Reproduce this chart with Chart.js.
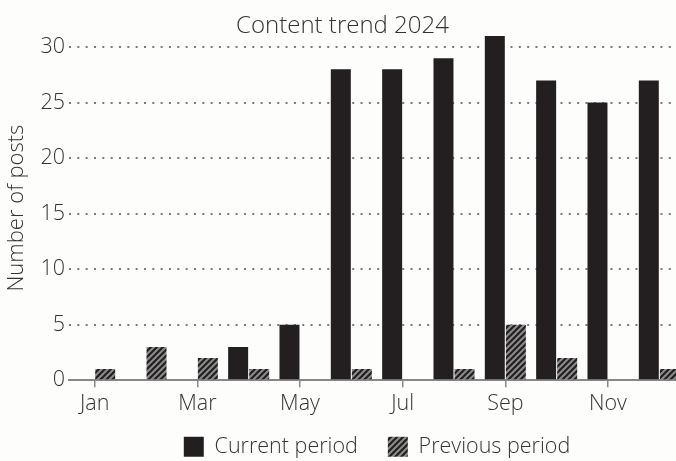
<!DOCTYPE html>
<html>
<head>
<meta charset="utf-8">
<script src="https://cdn.jsdelivr.net/npm/chart.js@4.4.1/dist/chart.umd.min.js"></script>
<style>
  html, body { margin: 0; padding: 0; background: #fdfdfc; overflow: hidden; }
  #wrap { width: 685px; height: 461px; }
</style>
</head>
<body>
<div id="wrap"><canvas id="chart"></canvas></div>
<script>
const months = ['Jan', 'Feb', 'Mar', 'Apr', 'May', 'Jun', 'Jul', 'Aug', 'Sep', 'Oct', 'Nov', 'Dec'];
const currentPeriod = [0, 0, 0, 3, 5, 28, 28, 29, 31, 27, 25, 27];
const previousPeriod = [1, 3, 2, 1, 0, 1, 0, 1, 5, 2, 0, 1];
const yTicks = [0, 5, 10, 15, 20, 25, 30];

const textColor = '#333333';
const barColor = '#231f20';
const font = "'Open Sans', sans-serif";

// hatch pattern for the previous period
function makeHatch() {
    const s = 6;
    const c = document.createElement('canvas');
    c.width = s;
    c.height = s;
    const g = c.getContext('2d');
    g.fillStyle = '#8c8c8c';
    g.fillRect(0, 0, s, s);
    g.strokeStyle = barColor;
    g.lineWidth = 2.2;
    g.beginPath();
    g.moveTo(0, s); g.lineTo(s, 0);
    g.moveTo(-1, 1); g.lineTo(1, -1);
    g.moveTo(s - 1, s + 1); g.lineTo(s + 1, s - 1);
    g.stroke();
    return g.createPattern(c, 'repeat');
}
const hatch = makeHatch();

// legend: centred over the plot area and pulled up into the label band
const legendPlace = {
    id: 'legendPlace',
    afterLayout(chart) {
        const lg = chart.legend;
        const area = chart.chartArea;
        lg.left = area.left;
        lg.right = area.right;
        lg.width = area.right - area.left;
        lg.top = lg.bottom - 55;
        lg.height = 55;
    }
};

const ctx = document.getElementById('chart').getContext('2d');
const chart = new Chart(ctx, {
    type: 'bar',
    data: {
        labels: months,
        datasets: [{
            label: 'Current period',
            data: currentPeriod,
            backgroundColor: barColor,
            borderWidth: 0,
            categoryPercentage: 0.82,
            barPercentage: 0.95
        }, {
            label: 'Previous period',
            data: previousPeriod,
            backgroundColor: hatch,
            borderWidth: 0,
            categoryPercentage: 0.82,
            barPercentage: 0.95
        }]
    },
    plugins: [legendPlace],
    options: {
        responsive: true,
        maintainAspectRatio: false,
        animation: false,
        layout: { padding: 0 },
        plugins: {
            title: {
                display: true,
                text: 'Content trend 2024',
                color: textColor,
                font: { family: font, size: 24, weight: 300, lineHeight: 1.0 },
                padding: { top: 14, bottom: -2 }
            },
            legend: {
                position: 'bottom',
                labels: {
                    color: textColor,
                    font: { family: font, size: 21.5, weight: 300 },
                    boxWidth: 20,
                    boxHeight: 20,
                    padding: 30
                }
            },
            tooltip: { enabled: false }
        },
        scales: {
            x: {
                offset: true,
                grid: {
                    offset: false,
                    drawOnChartArea: false,
                    drawTicks: true,
                    tickLength: 7,
                    color: '#888888',
                    lineWidth: 1.5
                },
                border: { display: true, color: '#888888', width: 2 },
                ticks: {
                    color: textColor,
                    font: { family: font, size: 21.5, weight: 300 },
                    padding: 4,
                    autoSkip: true,
                    maxTicksLimit: 6,
                    maxRotation: 0
                }
            },
            y: {
                min: 0,
                max: 31,
                afterBuildTicks: scale => {
                    scale.ticks = yTicks.map(v => ({ value: v }));
                },
                afterFit: scale => { scale.width = 69; },
                grid: {
                    drawTicks: false,
                    color: '#7a7a7a',
                    lineWidth: 2
                },
                border: { display: false, dash: [2, 6.33] },
                ticks: {
                    color: textColor,
                    font: { family: font, size: 21.5, weight: 300 },
                    padding: 4
                },
                title: {
                    display: true,
                    text: 'Number of posts',
                    color: textColor,
                    font: { family: font, size: 22, weight: 300 },
                    padding: { top: 4, bottom: 0 }
                }
            }
        }
    }
});

// fixed legend height so the plot keeps its bottom at the reference position
const legendFit = chart.legend.fit;
chart.legend.fit = function () {
    legendFit.call(this);
    this.height = 40;
};
chart.update();
</script>
</body>
</html>
